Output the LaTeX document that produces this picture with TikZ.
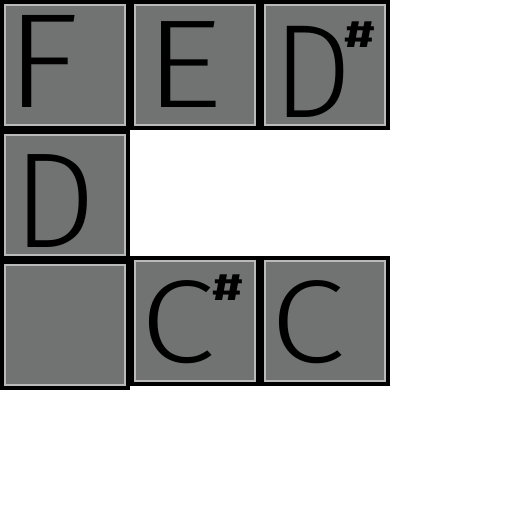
\documentclass[tikz,border=0pt]{standalone}
\usepackage{fontspec}
\setmainfont{Fira Sans}
\newfontfamily\lightfont{Fira Sans Light}
\definecolor{tilefill}{RGB}{113,115,114}
\definecolor{tileedge}{RGB}{186,186,186}
\newcommand\hl[3]{\scalebox{#1}[#2]{\fontsize{128}{128}\lightfont #3}}
\newcommand\sharpsign{\scalebox{1.45}[1]{\fontsize{38}{38}\selectfont\bfseries\#}}
\tikzset{
  tile/.style={draw=tileedge, fill=tilefill, line width=2pt, minimum size=120pt, inner sep=0pt},
  letter/.style={inner sep=0pt, text=black},
}
\begin{document}
\begin{tikzpicture}[x=1pt,y=-1pt]
\useasboundingbox (0,0) rectangle (512,512);
\fill[white] (0,0) rectangle (512,512);
% black backing
\fill[black] (0,0) rectangle (390,130);
\fill[black] (0,130) rectangle (130,390);
\fill[black] (130,256) rectangle (390,386);
% tiles
\node[tile] (t1) at (65,65) {};
\node[tile] (t2) at (195,65) {};
\node[tile] (t3) at (325,65) {};
\node[tile] (t4) at (65,195) {};
\node[tile] (t5) at (65,325) {};
\node[tile] (t6) at (195,321) {};
\node[tile] (t7) at (325,321) {};
% letters
\node[letter] (lF) at (42,61) {\hl{1.2}{1.05}{F}};
\node[letter] (lE) at (184,65) {\hl{1.2}{0.98}{E}};
\node[letter] (lDs) at (313,72) {\hl{0.97}{1.04}{D}};
\node[letter] (sD) at (360,35) {\sharpsign};
\node[letter] (lD) at (55,201) {\hl{1.02}{1.06}{D}};
\node[letter] (lCs) at (178,322) {\hl{1.06}{0.92}{C}};
\node[letter] (sC) at (228,288) {\sharpsign};
\node[letter] (lC) at (308,322) {\hl{1.06}{0.92}{C}};
\end{tikzpicture}
\end{document}
